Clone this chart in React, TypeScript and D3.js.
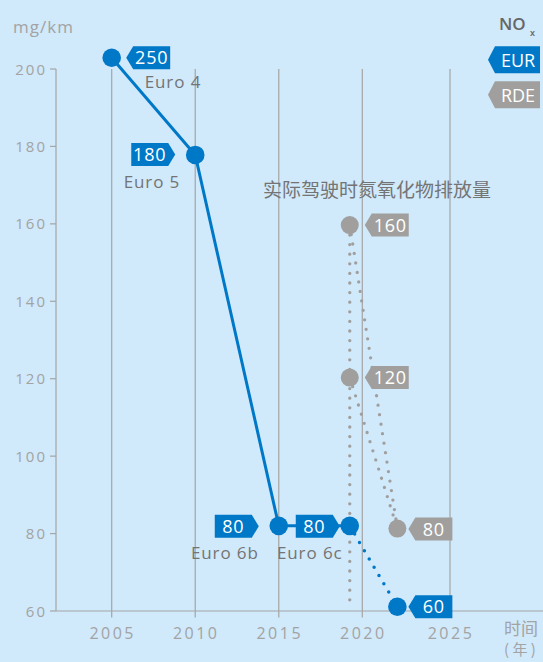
import React from "react";
import * as d3 from "d3";

const yTicks = [60, 80, 100, 120, 140, 160, 180, 200];
const xTicks = [2005, 2010, 2015, 2020, 2025];

const eurYears = [2005, 2010, 2015, 2019.25];
const eurValues = [202.9, 177.8, 82, 82];
const eurLabels = ["250", "180", "80", "80"];
const euroNames = ["Euro 4", "Euro 5", "Euro 6b", "Euro 6c"];
const eurProjYear = 2022;
const eurProjValue = 61.1;
const eurProjLabel = "60";

const rdeYears = [2019.25, 2019.25, 2022];
const rdeValues = [159.7, 120.3, 81.3];
const rdeLabels = ["160", "120", "80"];
const rdeFloor = 60.8;

const BLUE = "#0078c8";
const GRAY = "#a09f9e";
const BG = "#d0e9fb";
const GRID = "#a5a5a5";
const TEXT = "#a3a3a3";
const DARK = "#747474";
const FONT = "'Open Sans', Lato, sans-serif";
const CJK = "'Noto Sans CJK SC', sans-serif";

const x = d3.scaleLinear().domain([2005, 2020, 2025]).range([111.7, 362.3, 450]);
const y = d3.scaleLinear().domain([60, 200]).range([611, 69]);

function callout(tip: number, cy: number, dir: "left" | "right", w = 44, h = 23, a = 7) {
  const hh = h / 2;
  if (dir === "left") {
    return `M${tip},${cy} L${tip + a},${cy - hh} L${tip + w},${cy - hh} L${tip + w},${cy + hh} L${tip + a},${cy + hh} Z`;
  }
  return `M${tip},${cy} L${tip - a},${cy - hh} L${tip - w},${cy - hh} L${tip - w},${cy + hh} L${tip - a},${cy + hh} Z`;
}

function Label({ px, py, dir, gap, dy, text, fill }: any) {
  const cy = py + dy;
  const tip = dir === "left" ? px + gap : px - gap;
  const w = 44;
  const a = 7;
  const tx = dir === "left" ? tip + a + (w - a) / 2 : tip - a - (w - a) / 2;
  return (
    <g>
      <path d={callout(tip, cy, dir, w, 23, a)} fill={fill} />
      <text x={tx} y={cy + 6.5} textAnchor="middle" fill="#fff" fontSize={18} fontFamily={FONT} letterSpacing={0.8}>
        {text}
      </text>
    </g>
  );
}

export default function App() {
  const eurLine = d3
    .line<number>()
    .x((_, i) => x(eurYears[i]))
    .y((d) => y(d))(eurValues) as string;

  const eurLabelCfg = [
    { dir: "left", gap: 14.5, dy: 0 },
    { dir: "right", gap: 20, dy: -0.5 },
    { dir: "right", gap: 20, dy: 0.5 },
    { dir: "right", gap: 10, dy: 0.5 },
  ];
  const euroNameCfg = [
    { dx: 33, dy: 30, anchor: "start" },
    { dx: -15, dy: 33, anchor: "end" },
    { dx: -20, dy: 33, anchor: "end" },
    { dx: -40, dy: 33, anchor: "middle" },
  ];
  const rdeLabelCfg = [
    { gap: 15, dy: 0 },
    { gap: 15, dy: 0 },
    { gap: 11, dy: 0.5 },
  ];

  const dotStyle = { strokeDasharray: "0 9.6", strokeLinecap: "round" as const, fill: "none" };

  return (
    <svg width={543} height={662} style={{ position: "absolute", left: 0, top: 0, background: BG }}>
      <rect x={0} y={0} width={543} height={662} fill={BG} />
      {/* gridlines */}
      {xTicks.map((t) => (
        <line key={t} x1={x(t)} x2={x(t)} y1={y(200)} y2={y(60) + 6.5} stroke={GRID} strokeWidth={1.2} />
      ))}
      {/* axes */}
      <line x1={56} x2={56} y1={y(200)} y2={y(60)} stroke={GRID} strokeWidth={1.2} />
      <line x1={56} x2={543} y1={y(60)} y2={y(60)} stroke={GRID} strokeWidth={1.2} />
      {yTicks.map((t) => (
        <g key={t}>
          <line x1={50} x2={56} y1={y(t)} y2={y(t)} stroke={GRID} strokeWidth={1.2} />
          <text x={47} y={y(t) + 5.5} textAnchor="end" fill={TEXT} fontSize={15} fontFamily={FONT} letterSpacing={2}>
            {t}
          </text>
        </g>
      ))}
      {xTicks.map((t) => (
        <text key={t} x={x(t) + 1} y={639} textAnchor="middle" fill={TEXT} fontSize={16} fontFamily={FONT} letterSpacing={2.5}>
          {t}
        </text>
      ))}
      <text x={13} y={33} fill={TEXT} fontSize={17} fontFamily={FONT} letterSpacing={1}>mg/km</text>
      <text x={521} y={635} textAnchor="middle" fill={TEXT} fontSize={17} fontFamily={CJK}>时间</text>
      <text x={520} y={655} textAnchor="middle" fill={TEXT} fontSize={15} fontFamily={CJK}>( 年 )</text>

      {/* RDE dotted lines */}
      <line x1={x(rdeYears[0])} x2={x(rdeYears[0])} y1={y(rdeValues[0]) + 10} y2={y(rdeFloor)} stroke={GRAY} strokeWidth={3.3} style={dotStyle} />
      <line x1={x(rdeYears[0])} y1={y(rdeValues[0])} x2={x(rdeYears[2])} y2={y(rdeValues[2])} stroke={GRAY} strokeWidth={3.3} style={dotStyle} />
      <line x1={x(rdeYears[1])} y1={y(rdeValues[1])} x2={x(rdeYears[2])} y2={y(rdeValues[2])} stroke={GRAY} strokeWidth={3.3} style={dotStyle} />
      {rdeValues.map((v, i) => (
        <circle key={i} cx={x(rdeYears[i])} cy={y(v)} r={9} fill={GRAY} />
      ))}

      {/* EUR */}
      <line x1={x(eurYears[3])} y1={y(eurValues[3])} x2={x(eurProjYear)} y2={y(eurProjValue)} stroke={BLUE} strokeWidth={3.5} style={dotStyle} />
      <path d={eurLine} fill="none" stroke={BLUE} strokeWidth={3} />
      {eurValues.map((v, i) => (
        <circle key={i} cx={x(eurYears[i])} cy={y(v)} r={9.3} fill={BLUE} />
      ))}
      <circle cx={x(eurProjYear)} cy={y(eurProjValue)} r={9.3} fill={BLUE} />

      {eurValues.map((v, i) => (
        <Label key={i} px={x(eurYears[i])} py={y(v)} dir={eurLabelCfg[i].dir} gap={eurLabelCfg[i].gap} dy={eurLabelCfg[i].dy} text={eurLabels[i]} fill={BLUE} />
      ))}
      <Label px={x(eurProjYear)} py={y(eurProjValue)} dir="left" gap={11} dy={0} text={eurProjLabel} fill={BLUE} />
      {rdeValues.map((v, i) => (
        <Label key={i} px={x(rdeYears[i])} py={y(v)} dir="left" gap={rdeLabelCfg[i].gap} dy={rdeLabelCfg[i].dy} text={rdeLabels[i]} fill={GRAY} />
      ))}

      {eurValues.map((v, i) => (
        <text key={i} x={x(eurYears[i]) + euroNameCfg[i].dx} y={y(v) + euroNameCfg[i].dy} textAnchor={euroNameCfg[i].anchor as any} fill={DARK} fontSize={17} fontFamily={FONT} letterSpacing={0.9}>
          {euroNames[i]}
        </text>
      ))}

      <text x={263} y={197} fill={DARK} fontSize={19} fontFamily={CJK}>实际驾驶时氮氧化物排放量</text>

      {/* legend */}
      <text x={499} y={30} fill="#666" fontSize={17} fontWeight={600} fontFamily={FONT}>NO</text>
      <text x={530} y={36} fill="#666" fontSize={9} fontWeight={600} fontFamily={FONT}>x</text>
      <path d={callout(488, 59.7, "left", 52, 27, 7)} fill={BLUE} />
      <text x={518} y={66.5} textAnchor="middle" fill="#fff" fontSize={18} fontFamily={FONT}>EUR</text>
      <path d={callout(488, 94.7, "left", 52, 27, 7)} fill={GRAY} />
      <text x={518} y={101.5} textAnchor="middle" fill="#fff" fontSize={18} fontFamily={FONT}>RDE</text>
    </svg>
  );
}
